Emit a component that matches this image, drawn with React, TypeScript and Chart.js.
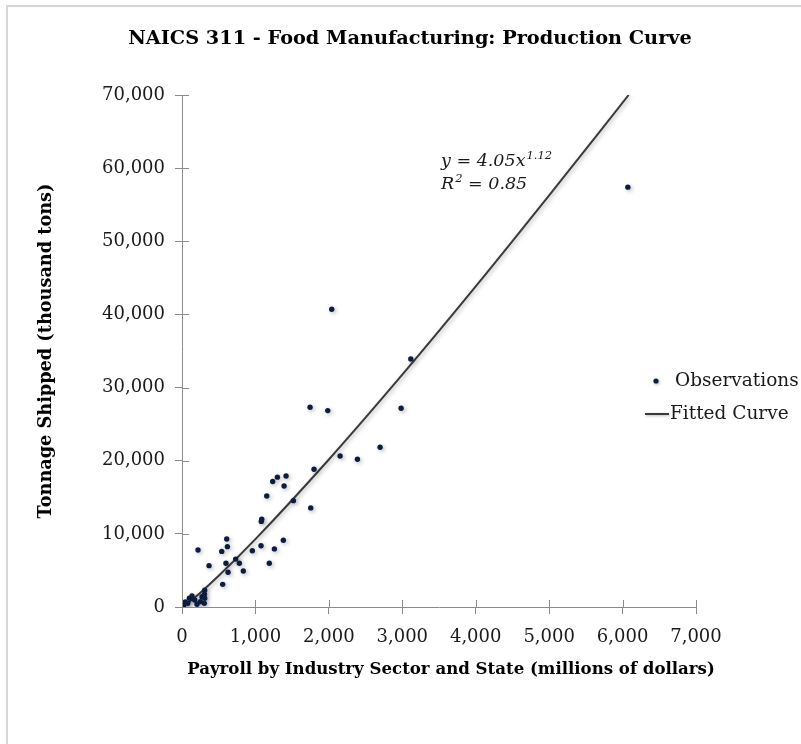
import React, { useEffect, useRef } from "react";
import { Chart, registerables } from "chart.js";

Chart.register(...registerables);

const chartTitle = "NAICS 311 - Food Manufacturing: Production Curve";
const xAxisTitle = "Payroll by Industry Sector and State (millions of dollars)";
const yAxisTitle = "Tonnage Shipped (thousand tons)";
const obsLabel = "Observations";
const fitLabel = "Fitted Curve";
const eqMain = "y = 4.05x";
const eqExp = "1.12";
const r2Sup = "2";
const r2Rest = " = 0.85";

// Observations: payroll (millions $) vs tonnage shipped (thousand tons)
const payroll = [
  20, 45, 78, 100, 136, 173, 204, 249, 272, 309, 305, 309, 304,
  218, 368, 554, 541, 599, 609, 618, 627, 731, 781, 835, 958,
  1076, 1086, 1080, 1154, 1189, 1235, 1258, 1299, 1380, 1390, 1417,
  1517, 1744, 1753, 1798, 1985, 2039, 2153, 2389, 2698, 2984, 3116, 6072,
];
const tonnage = [
  150, 700, 500, 1200, 1500, 950, 370, 730, 1400, 2300, 1750, 1200, 500,
  7800, 5650, 3100, 7600, 5980, 9300, 8250, 4750, 6550, 5980, 4920, 7700,
  8380, 12000, 11700, 15180, 5980, 17150, 7940, 17750, 9120, 16550, 17920,
  14540, 27300, 13550, 18830, 26850, 40700, 20650, 20200, 21850, 27180, 33900, 57400,
];

// Fitted power curve y = 4.05 x^1.12, sampled
const fitPayroll = [20, 50, 100, 250, 500, 1000, 2000, 3000, 4000, 5000, 6083];
const fitTonnage = [116, 324, 704, 1965, 4268, 9278, 20166, 31760, 43828, 56276, 70000];

const xTickValues = [0, 1000, 2000, 3000, 4000, 5000, 6000, 7000];
const yTickValues = [0, 10000, 20000, 30000, 40000, 50000, 60000, 70000];

const SERIF = "'DejaVu Serif', 'Liberation Serif', serif";
const AXIS_COLOR = "#8a8a8a";
const POINT_COLOR = "#0c1e40";
const LINE_COLOR = "#3a3a3a";

const decorPlugin = {
  id: "decor",
  beforeDraw(chart: any) {
    const ctx = chart.ctx;
    ctx.save();
    ctx.fillStyle = "#ffffff";
    ctx.fillRect(0, 0, chart.width, chart.height);
    ctx.strokeStyle = "#d6d6d6";
    ctx.lineWidth = 2;
    ctx.strokeRect(7, 6, chart.width + 10, chart.height + 10);
    ctx.restore();
  },
  beforeDatasetDraw(chart: any) {
    const ctx = chart.ctx;
    ctx.save();
    ctx.shadowColor = "rgba(0,0,0,0.30)";
    ctx.shadowBlur = 4;
    ctx.shadowOffsetX = 1.5;
    ctx.shadowOffsetY = 1.5;
  },
  afterDatasetDraw(chart: any) {
    chart.ctx.restore();
  },
  afterDraw(chart: any) {
    const ctx = chart.ctx;
    const xs = chart.scales.x;
    const ys = chart.scales.y;
    const area = chart.chartArea;
    ctx.save();
    // inner halves of the cross ticks
    ctx.strokeStyle = AXIS_COLOR;
    ctx.lineWidth = 1;
    ctx.beginPath();
    xTickValues.forEach((v) => {
      const px = Math.round(xs.getPixelForValue(v)) + 0.5;
      ctx.moveTo(px, area.bottom);
      ctx.lineTo(px, area.bottom - 7);
    });
    yTickValues.forEach((v) => {
      const py = Math.round(ys.getPixelForValue(v)) + 0.5;
      ctx.moveTo(area.left, py);
      ctx.lineTo(area.left + 7, py);
    });
    ctx.stroke();

    // chart title
    ctx.fillStyle = "#000000";
    ctx.textAlign = "center";
    ctx.textBaseline = "alphabetic";
    ctx.font = `bold 19.3px ${SERIF}`;
    ctx.fillText(chartTitle, 410, 44);

    // x axis title
    ctx.font = `bold 16.6px ${SERIF}`;
    ctx.fillText(xAxisTitle, 451, 674);

    // equation annotation
    ctx.textAlign = "left";
    ctx.fillStyle = "#1a1a1a";
    const ex = 441;
    ctx.font = `italic 17.5px ${SERIF}`;
    ctx.fillText(eqMain, ex, 166);
    let w = ctx.measureText(eqMain).width;
    ctx.font = `italic 11.5px ${SERIF}`;
    ctx.fillText(eqExp, ex + w + 1, 159);
    ctx.font = `italic 17.5px ${SERIF}`;
    ctx.fillText("R", ex, 189);
    w = ctx.measureText("R").width;
    ctx.font = `italic 11.5px ${SERIF}`;
    ctx.fillText(r2Sup, ex + w + 1, 182);
    const w2 = ctx.measureText(r2Sup).width;
    ctx.font = `italic 17.5px ${SERIF}`;
    ctx.fillText(r2Rest, ex + w + w2 + 1, 189);

    // legend
    ctx.font = `18.5px ${SERIF}`;
    ctx.textBaseline = "middle";
    ctx.save();
    ctx.shadowColor = "rgba(0,0,0,0.30)";
    ctx.shadowBlur = 3;
    ctx.shadowOffsetX = 1;
    ctx.shadowOffsetY = 1;
    ctx.fillStyle = POINT_COLOR;
    ctx.beginPath();
    ctx.arc(656, 381, 2.6, 0, Math.PI * 2);
    ctx.fill();
    ctx.strokeStyle = LINE_COLOR;
    ctx.lineWidth = 2;
    ctx.beginPath();
    ctx.moveTo(645, 414);
    ctx.lineTo(669, 414);
    ctx.stroke();
    ctx.restore();
    ctx.fillStyle = "#1a1a1a";
    ctx.fillText(obsLabel, 675, 381);
    ctx.fillText(fitLabel, 670, 414);
    ctx.restore();
  },
};

export default function App() {
  const canvasRef = useRef<HTMLCanvasElement | null>(null);

  useEffect(() => {
    if (!canvasRef.current) return;
    const obsData = payroll.map((x, i) => ({ x, y: tonnage[i] }));
    const fitData = fitPayroll.map((x, i) => ({ x, y: fitTonnage[i] }));
    const chart = new Chart(canvasRef.current, {
      type: "scatter",
      data: {
        datasets: [
          {
            label: obsLabel,
            data: obsData,
            pointRadius: 2.7,
            pointHoverRadius: 2.7,
            backgroundColor: POINT_COLOR,
            borderColor: POINT_COLOR,
            borderWidth: 0,
            showLine: false,
          },
          {
            label: fitLabel,
            data: fitData,
            showLine: true,
            pointRadius: 0,
            borderColor: LINE_COLOR,
            borderWidth: 2,
            cubicInterpolationMode: "monotone",
            fill: false,
          },
        ],
      },
      options: {
        responsive: false,
        animation: false,
        devicePixelRatio: 1,
        layout: { padding: { left: 0, right: 105, top: 95, bottom: 0 } },
        plugins: {
          legend: { display: false },
          title: { display: false },
          tooltip: { enabled: false },
        },
        scales: {
          x: {
            type: "linear",
            min: 0,
            max: 7000,
            afterBuildTicks: (scale: any) => {
              scale.ticks = xTickValues.map((v) => ({ value: v }));
            },
            afterFit: (scale: any) => {
              scale.height = 137;
            },
            grid: {
              drawOnChartArea: false,
              drawTicks: true,
              tickLength: 7,
              color: AXIS_COLOR,
            },
            border: { display: true, color: AXIS_COLOR, width: 1 },
            ticks: {
              padding: 13,
              color: "#1a1a1a",
              font: { family: SERIF, size: 18 },
              maxRotation: 0,
            },
          },
          y: {
            type: "linear",
            min: 0,
            max: 70000,
            afterBuildTicks: (scale: any) => {
              scale.ticks = yTickValues.map((v) => ({ value: v }));
            },
            afterFit: (scale: any) => {
              scale.width = 182;
            },
            grid: {
              drawOnChartArea: false,
              drawTicks: true,
              tickLength: 7,
              color: AXIS_COLOR,
            },
            border: { display: true, color: AXIS_COLOR, width: 1 },
            ticks: {
              padding: 10,
              color: "#1a1a1a",
              font: { family: SERIF, size: 18 },
            },
            title: {
              display: true,
              text: yAxisTitle,
              color: "#000000",
              font: { family: SERIF, size: 17.7, weight: "bold" },
              padding: { top: 36, bottom: 0 },
            },
          },
        },
      },
      plugins: [decorPlugin],
    });
    return () => chart.destroy();
  }, []);

  return (
    <div style={{ position: "absolute", left: 0, top: 0, width: 801, height: 744, overflow: "hidden" }}>
      <canvas ref={canvasRef} width={801} height={744} style={{ display: "block" }} />
    </div>
  );
}
